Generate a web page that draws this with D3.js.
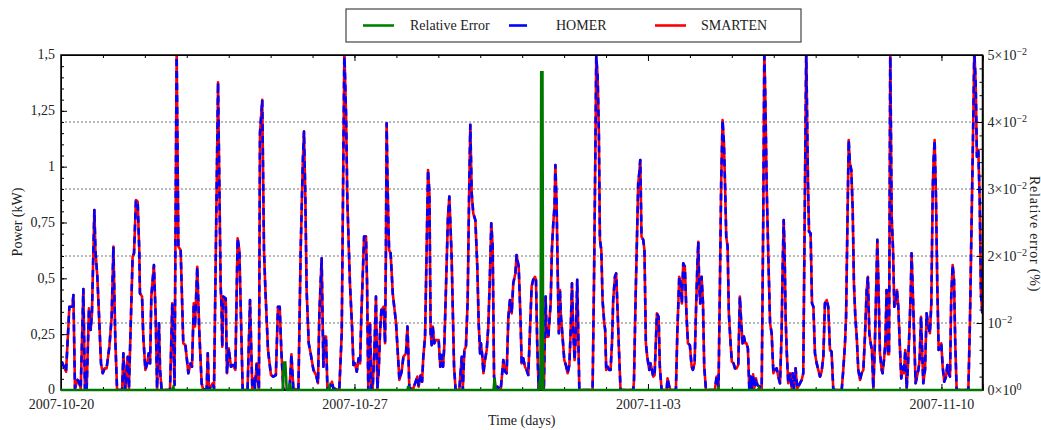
<!DOCTYPE html>
<html lang="en">
<head>
  <meta charset="UTF-8">
  <title>HOMER vs SMARTEN</title>
  <style>
    body { margin: 0; background: #fff; }
    svg { display: block; font-family: "Liberation Serif", "Times New Roman", serif; }
    .axis text { font-size: 14px; fill: #222; font-family: "Liberation Serif", serif; }
    .axis path, .axis line { stroke: #000; }
  </style>
</head>
<body>
  <svg class="chart"></svg>
  <script src="https://cdn.jsdelivr.net/npm/d3@7"></script>
  <script>
    // hours after 2007-10-20 00:00, power in kW
    var homer = [
      [0.4,0.127],[2.9,0.082],[4.8,0.373],[6.5,0.373],[7.1,0.425],[8.0,0.007],[9.5,0.045],[10.5,0.030],[11.3,0.007],[12.8,0.452],
      [13.7,0.007],[14.3,0.052],[14.7,0.007],[16.0,0.366],[17.0,0.269],[17.7,0.343],[19.1,0.806],[19.7,0.627],[20.8,0.507],[21.8,0.328],
      [22.9,0.119],[23.9,0.075],[25.0,0.097],[26.1,0.097],[27.7,0.194],[29.0,0.328],[30.0,0.642],[30.5,0.448],[31.1,0.224],[32.1,0],
      [35.0,0],[35.7,0.164],[36.8,0],[38.2,0.149],[38.9,0.007],[41.0,0.597],[41.8,0.612],[42.9,0.851],[43.9,0.843],[44.8,0.627],
      [45.2,0.433],[46.4,0.418],[47.1,0.239],[48.3,0.090],[49.4,0.119],[50.2,0.164],[51.0,0.119],[51.7,0.418],[53.2,0.560],[54.2,0.328],
      [55.0,0.007],[56.1,0.299],[56.7,0.090],[57.6,0],[62.4,0],[63.7,0.388],[65.0,0.022],[66.2,1.52],[67.2,0.642],[68.5,0.627],
      [70.0,0.209],[71.2,0.201],[72.9,0.075],[74.2,0.119],[75.0,0.104],[76.0,0.388],[76.7,0.284],[78.0,0.552],[79.2,0.254],[80.5,0.030],
      [81.5,0],[83.4,0.007],[84.0,0.164],[84.7,0],[86.8,0.030],[87.6,0.007],[89.9,1.378],[91.4,0.463],[91.9,0.373],[92.3,0.194],
      [92.9,0.418],[94.3,0.410],[95.0,0.075],[96.0,0.187],[97.3,0.104],[98.5,0.112],[99.8,0.090],[101.1,0.679],[102.1,0.627],[104.0,0],
      [106.8,0],[108.2,0.403],[109.5,0.007],[110.3,0.052],[111.0,0.007],[112.0,0.119],[113.3,0],[113.9,1.149],[115.2,1.299],[116.2,0.627],
      [117.0,0.448],[118.5,0.179],[120.2,0.067],[121.5,0.060],[123.0,0.067],[124.2,0.373],[125.2,0.373],[126.1,0.179],[127.3,0],
      [130.8,0],[131.9,0.16],[133.0,0.007],[135.9,0],[137.2,0.627],[138.4,1.015],[139.1,1.157],[139.9,0.851],[140.6,0.448],[141.8,0.209],
      [142.9,0.164],[144.5,0.090],[146.0,0.067],[147.1,0.030],[147.9,0.343],[149.2,0.590],[150.2,0.104],[150.7,0.239],[151.7,0.239],[152.5,0.007],
      [154.0,0.015],[155.1,0.037],[155.9,0.007],[159.3,0],[160.7,0.254],[162.2,1.52],[163.2,1.224],[163.9,0.851],[165.4,0.478],[166.6,0.284],
      [167.4,0.112],[168.3,0.119],[169.3,0.082],[170.4,0.142],[171.2,0.119],[171.9,0.328],[172.7,0.507],[173.5,0.687],[174.6,0.687],[175.2,0.478],
      [175.9,0],[176.9,0.299],[177.7,0],[178.4,0.007],[179.4,0.179],[180.3,0.418],[181.1,0.007],[181.9,0.090],[182.6,0.254],[183.4,0.358],
      [184.7,0.373],[185.5,0.209],[186.0,0.627],[186.4,1.194],[187.0,0.896],[187.8,0.627],[188.7,0.612],[189.9,0.433],[191.8,0.299],[193.7,0.045],
      [195.0,0.082],[196.0,0.149],[197.5,0.164],[198.3,0.284],[198.8,0.179],[199.4,0.007],[201.7,0.007],[204.0,0.060],[204.7,0.015],[205.9,0.067],
      [206.7,0.037],[207.4,0.149],[208.4,0.239],[209.3,0.627],[210.1,0.985],[210.9,0.881],[211.6,0.254],[212.2,0.201],[212.8,0.284],[213.7,0.209],
      [214.5,0.224],[216.2,0.224],[217.1,0.104],[217.9,0.157],[218.7,0.104],[219.4,0.194],[220.4,0.463],[221.5,0.776],[222.3,0.866],[222.9,0.746],
      [223.6,0.597],[225.0,0.104],[225.9,0],[228.0,0],[229.4,0.149],[230.0,0],[230.9,0.179],[231.8,0.194],[232.8,0.403],[233.6,0.866],
      [234.3,1.187],[235.1,0.881],[236.0,0.791],[237.2,0.761],[238.3,0.552],[239.1,0.299],[239.9,0.164],[240.4,0.209],[241.2,0.149],[241.8,0.075],
      [242.7,0.134],[243.7,0.179],[244.6,0.284],[245.4,0.478],[246.3,0.746],[247.1,0.642],[247.9,0.060],[248.8,0.007],[249.8,0.015],[251.7,0],
      [253.2,0.134],[254.2,0.082],[255.1,0.075],[256.1,0.328],[257.0,0.403],[258.0,0.343],[258.9,0.478],[260.1,0.522],[260.8,0.604],[262.0,0.552],
      [263.0,0.328],[263.7,0.119],[264.6,0.142],[265.6,0.104],[266.5,0.090],[267.5,0.067],[268.4,0.254],[269.4,0.463],[270.3,0.493],[271.3,0.507],
      [271.9,0.493],[272.6,0.209],[273.4,0.007],[274.1,0.104],[274.7,0.007],[275.7,0.030],[276.4,0],[277.4,0.418],[278.0,0.239],[279.0,0.239],
      [279.5,0.299],[280.3,0.388],[281.0,0.627],[281.8,0.746],[282.5,0.821],[283.0,1.007],[283.7,0.836],[284.5,0.448],[285.0,0.254],[285.6,0.448],
      [286.2,0.328],[287.1,0.239],[288.1,0.134],[289.0,0.112],[290.0,0.075],[291.0,0.112],[291.7,0.254],[292.5,0.478],[293.2,0.269],[294.0,0.134],
      [294.8,0.269],[295.5,0.493],[296.1,0.254],[296.7,0],[304.3,0],[305.1,0.478],[305.8,1.0],[306.4,1.493],[307.2,1.403],[307.9,1.149],
      [308.5,0.672],[309.3,0.627],[310.0,0.403],[311.0,0.299],[311.5,0.269],[312.1,0.090],[312.9,0.104],[313.8,0.090],[314.6,0.090],[315.4,0.209],
      [316.1,0.403],[317.1,0.507],[317.8,0.522],[318.6,0.358],[319.4,0.179],[320.3,0],[327.6,0],[328.0,0.045],[328.9,0.403],[329.9,0.746],
      [330.4,0.925],[331.0,0.970],[331.6,1.030],[332.3,0.687],[333.3,0.672],[334.0,0.627],[334.8,0.209],[335.6,0.149],[336.7,0.090],[337.5,0.119],
      [338.3,0.090],[339.0,0.060],[339.8,0.067],[340.5,0.209],[341.1,0.343],[342.1,0.328],[342.8,0.104],[343.8,0],[346.7,0],[347.2,0.052],
      [348.2,0.015],[349.0,0],[352.0,0],[352.8,0.254],[353.9,0.507],[354.7,0.478],[355.4,0.388],[356.2,0.567],[357.1,0.552],[358.1,0.328],
      [358.9,0.209],[360.0,0.201],[361.0,0.104],[361.7,0.090],[362.7,0.119],[363.4,0.328],[364.2,0.537],[364.8,0.664],[365.3,0.478],[365.9,0.388],
      [366.7,0.507],[367.5,0.388],[368.2,0.104],[369.2,0],[374.3,0],[375.3,0.060],[376.4,0.015],[377.2,0.478],[377.9,0.925],[378.7,1.209],
      [379.5,1.104],[380.2,0.896],[380.8,0.687],[381.6,0.642],[382.3,0.343],[383.3,0.209],[384.0,0.127],[385.0,0.119],[385.8,0.097],[386.7,0.097],
      [387.7,0.112],[388.6,0.418],[389.4,0.299],[390.2,0.209],[390.9,0.239],[391.7,0.209],[392.4,0.209],[393.2,0.187],[394.0,0.007],[394.7,0.060],
      [395.5,0.007],[396.2,0.07],[396.9,0.01],[397.8,0.052],[398.6,0.022],[400.1,0.015],[401.1,0.007],[402.0,0.776],[402.6,1.52],[403.2,1.299],
      [404.0,0.896],[404.9,0.597],[405.9,0.299],[406.8,0.254],[407.8,0.075],[408.7,0.090],[409.7,0.097],[410.6,0.060],[411.6,0.030],[412.5,0.254],
      [413.1,0.552],[413.7,0.761],[414.2,0.627],[414.8,0.328],[415.4,0.179],[416.3,0.030],[417.3,0.075],[418.3,0.007],[418.8,0.075],[419.6,0.007],
      [420.5,0.097],[421.5,0.007],[423.0,0.030],[424.0,0.045],[424.9,0.075],[425.9,0.925],[426.6,1.52],[427.6,0.925],[428.2,0.709],[429.1,0.701],
      [429.9,0.388],[430.7,0.373],[431.6,0.164],[432.6,0.119],[433.5,0.090],[434.5,0.060],[435.4,0.082],[436.4,0.149],[437.3,0.388],[438.3,0.403],
      [439.2,0.373],[440.2,0.179],[441.1,0.172],[442.1,0],[446.9,0],[447.8,0.090],[448.8,0.209],[449.4,0.328],[450.1,0.701],[450.9,1.119],
      [451.6,1.015],[452.4,0.985],[453.2,0.806],[453.9,0.478],[454.7,0.328],[455.5,0.239],[456.4,0.090],[457.4,0.045],[458.3,0.075],[459.3,0.090],
      [460.2,0.239],[461.2,0.448],[461.9,0.507],[462.7,0.254],[463.5,0.209],[464.2,0.179],[465.0,0.007],[465.8,0.179],[466.5,0.403],[467.3,0.672],
      [467.9,0.478],[468.8,0.164],[469.8,0.090],[470.3,0.075],[471.1,0.134],[471.9,0.209],[472.6,0.448],[473.4,0.16],[474.0,0.16],[474.7,1.52],
      [475.5,0.776],[476.3,0.627],[477.0,0.373],[477.8,0.388],[478.5,0.448],[479.3,0.373],[480.3,0.179],[481.0,0.052],[481.8,0.104],[482.5,0.075],
      [483.3,0.179],[484.1,0.007],[484.8,0.104],[485.6,0.254],[486.4,0.433],[486.9,0.612],[487.7,0.418],[488.5,0.209],[489.2,0.030],[490.8,0.090],
      [491.5,0.134],[492.3,0.328],[493.6,0.030],[494.6,0.090],[495.5,0.343],[496.5,0.284],[497.4,0.254],[498.2,0.388],[499.0,0.896],[499.5,1.030],
      [500.1,1.119],[500.9,0.851],[501.6,0.478],[502.4,0.179],[503.2,0.194],[503.9,0.209],[504.7,0.104],[505.6,0.037],[506.6,0.060],[507.4,0.112],
      [508.1,0.075],[508.9,0.060],[509.6,0.418],[510.4,0.560],[511.2,0.493],[511.9,0.209],[512.7,0],[519.4,0],[520.3,0.299],[521.3,0.776],
      [522.2,1.194],[522.8,1.52],[523.6,1.373],[524.3,1.045],[525.1,1.075],[525.9,0.851],[526.6,0.433],[527.4,0.343]
    ];
    // SMARTEN sits exactly on top of HOMER in the picture
    var smarten = homer.map(d => [d[0], d[1]]);

    // relative error (fraction), right axis
    var relErr = [
      [0,0],[63.8,0],[64.3,0.0004],[64.8,0],[126.9,0],[127.6,0.0041],[128.4,0.0041],[129.2,0],[130.6,0],[131.1,0.001],
      [131.7,0],[153.0,0],[153.5,0.0005],[154.0,0],[198.3,0],[198.8,0.0006],[199.3,0],[247.6,0],[248.2,0.0018],[248.8,0],
      [273.6,0],[274.1,0.0015],[274.5,0],[274.9,0.0474],[275.6,0.0474],[276.0,0],[376.0,0],[376.4,0.0003],[376.8,0],
      [399.0,0],[399.5,0.0003],[400.0,0],[527.5,0]
    ];

    var weekLabels = ["2007-10-20", "2007-10-27", "2007-11-03", "2007-11-10"];
    var powerTicks = [0, 0.25, 0.5, 0.75, 1, 1.25, 1.5];
    var errTicks = [0, 0.01, 0.02, 0.03, 0.04, 0.05];

    var W = 1041, H = 430,
        pLeft = 61, pRight = 982.5, pTop = 55, pBottom = 390;

    var start = Date.UTC(2007, 9, 20);
    function t(h) { return new Date(start + h * 3600e3); }

    var svg = d3.select(".chart").attr("width", W).attr("height", H);

    var x = d3.scaleUtc().domain([t(0), t(527.5)]).range([pLeft, pRight]);
    var y = d3.scaleLinear().domain([0, 1.5]).range([pBottom, pTop]);
    var yErr = d3.scaleLinear().domain([0, 0.05]).range([pBottom, pTop]);

    svg.append("clipPath").attr("id", "plot")
      .append("rect").attr("x", pLeft).attr("y", pTop)
      .attr("width", pRight - pLeft).attr("height", pBottom - pTop);
    // the error curve lies on the x axis, let it cover the axis line
    svg.append("clipPath").attr("id", "plotErr")
      .append("rect").attr("x", pLeft).attr("y", pTop)
      .attr("width", pRight - pLeft).attr("height", pBottom - pTop + 2);

    // dotted grid at the right axis majors
    svg.append("g").selectAll("line")
      .data(errTicks.slice(1, -1))
      .enter().append("line")
        .attr("x1", pLeft).attr("x2", pRight)
        .attr("y1", d => yErr(d)).attr("y2", d => yErr(d))
        .attr("stroke", "#777").attr("stroke-width", 1)
        .attr("stroke-dasharray", "2,2");

    var line = d3.line().x(d => x(t(d[0]))).y(d => y(d[1]));
    var lineErr = d3.line().x(d => x(t(d[0]))).y(d => yErr(d[1]));

    var g = svg.append("g").attr("clip-path", "url(#plot)");
    g.append("path").datum(smarten).attr("d", line)
      .attr("fill", "none").attr("stroke", "#ff0000").attr("stroke-width", 2.6)
      .attr("stroke-linejoin", "round");
    g.append("path").datum(homer).attr("d", line)
      .attr("fill", "none").attr("stroke", "#0000ff").attr("stroke-width", 2.6)
      .attr("stroke-dasharray", "7,5").attr("stroke-linejoin", "round");

    // axes, ticks pointing inwards
    var weeks = weekLabels.map(s => new Date(s + "T00:00:00Z"));
    var days = d3.utcDay.range(t(0), t(528));
    var comma = d => String(d).replace(".", ",");

    svg.append("g").attr("class", "axis").attr("transform", `translate(0,${pBottom})`)
      .call(d3.axisBottom(x).tickValues(days).tickSize(-3).tickFormat(""));
    svg.append("g").attr("class", "axis").attr("transform", `translate(0,${pBottom})`)
      .call(d3.axisBottom(x).tickValues(weeks).tickSize(-6).tickPadding(9)
        .tickFormat(d3.utcFormat("%Y-%m-%d")));
    svg.append("g").attr("class", "axis").attr("transform", `translate(0,${pTop})`)
      .call(d3.axisTop(x).tickValues(days).tickSize(-3).tickFormat(""));
    svg.append("g").attr("class", "axis").attr("transform", `translate(0,${pTop})`)
      .call(d3.axisTop(x).tickValues(weeks).tickSize(-6).tickFormat(""));

    svg.append("g").attr("class", "axis").attr("transform", `translate(${pLeft},0)`)
      .call(d3.axisLeft(y).tickValues(d3.range(0, 1.501, 0.05)).tickSize(-3).tickFormat(""));
    var lAxis = svg.append("g").attr("class", "axis").attr("transform", `translate(${pLeft},0)`)
      .call(d3.axisLeft(y).tickValues(powerTicks).tickSize(-6).tickPadding(6).tickFormat(comma));
    lAxis.selectAll(".tick text").attr("dy", "0.28em");

    svg.append("g").attr("class", "axis").attr("transform", `translate(${pRight},0)`)
      .call(d3.axisRight(yErr).tickValues(d3.range(0, 0.0501, 0.002)).tickSize(-3).tickFormat(""));
    var rAxis = svg.append("g").attr("class", "axis").attr("transform", `translate(${pRight},0)`)
      .call(d3.axisRight(yErr).tickValues(errTicks).tickSize(-6).tickPadding(5).tickFormat(""));
    rAxis.selectAll(".tick text").each(function(d) {
      var m = Math.round(d * 100);
      var base = d === 0 ? "0\u00d710" : (m === 1 ? "10" : m + "\u00d710");
      var sup = d === 0 ? "0" : "\u22122";
      var el = d3.select(this);
      el.append("tspan").text(base);
      el.append("tspan").attr("dy", "-0.5em").attr("font-size", "10px").text(sup);
    });

    svg.append("rect").attr("x", pLeft).attr("y", pTop)
      .attr("width", pRight - pLeft).attr("height", pBottom - pTop)
      .attr("fill", "none").attr("stroke", "#000").attr("stroke-width", 1.5);

    // relative error on top of the power curves and the bottom axis line
    svg.append("path").datum(relErr).attr("d", lineErr)
      .attr("clip-path", "url(#plotErr)")
      .attr("fill", "none").attr("stroke", "#007800").attr("stroke-width", 2.6);

    // axis titles
    svg.append("text").text("Time (days)")
      .attr("x", (pLeft + pRight) / 2).attr("y", 425)
      .attr("text-anchor", "middle").attr("font-size", 14).attr("fill", "#222");
    svg.append("text").text("Power (kW)")
      .attr("transform", "translate(22,222) rotate(-90)")
      .attr("text-anchor", "middle").attr("font-size", 14).attr("fill", "#222");
    svg.append("text").text("Relative error (%)")
      .attr("transform", "translate(1030,234) rotate(90)")
      .attr("text-anchor", "middle").attr("font-size", 14).attr("fill", "#222")
      .attr("letter-spacing", 0.8);

    // legend
    var legend = [
      {name: "Relative Error", color: "#008000", x1: 363, x2: 394, tx: 410},
      {name: "HOMER", color: "#0000ff", x1: 509, x2: 527, tx: 556},
      {name: "SMARTEN", color: "#ff0000", x1: 655, x2: 686, tx: 701}
    ];
    svg.append("rect").attr("x", 346).attr("y", 9).attr("width", 455).attr("height", 33)
      .attr("fill", "#fff").attr("stroke", "#444").attr("stroke-width", 1.2);
    var items = svg.selectAll(".leg").data(legend).enter().append("g").attr("class", "leg");
    items.append("line")
      .attr("x1", d => d.x1).attr("x2", d => d.x2).attr("y1", 25.5).attr("y2", 25.5)
      .attr("stroke", d => d.color).attr("stroke-width", 2.6);
    items.append("text").text(d => d.name)
      .attr("x", d => d.tx).attr("y", 30)
      .attr("font-size", 14).attr("fill", "#222");
  </script>
</body>
</html>
